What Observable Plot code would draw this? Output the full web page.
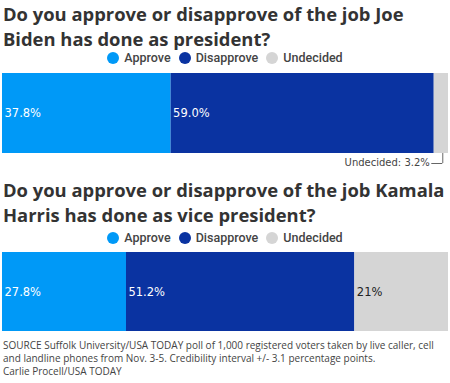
<!DOCTYPE html>
<html>
<head>
<meta charset="utf-8">
<script src="https://cdn.jsdelivr.net/npm/d3@7"></script>
<script src="https://cdn.jsdelivr.net/npm/@observablehq/plot@0.6"></script>
<style>
  html, body { margin: 0; padding: 0; background: #fff; }
  body { width: 450px; height: 383px; position: relative; overflow: hidden; font-family: "Open Sans", sans-serif; }
  .title { position: absolute; left: 3px; width: 447px; font-family: "Open Sans", sans-serif; font-weight: 700; font-size: 18.4px; line-height: 25px; color: #333; }
  .legend { position: absolute; left: 0; width: 450px; text-align: center; font-family: Roboto, sans-serif; font-size: 12.5px; font-weight: 500; color: #444; line-height: 12px; }
  .legend span.item { display: inline-block; margin: 0 4px; }
  .legend span.sw { display: inline-block; width: 12px; height: 12px; border-radius: 50%; vertical-align: -2px; margin-right: 5px; }
  .chart { position: absolute; left: 0; }
  .caption { position: absolute; left: 3px; top: 339px; width: 447px; font-family: "Open Sans", sans-serif; font-size: 10px; line-height: 13px; color: #444; }
</style>
</head>
<body>
<div id="root"></div>
<script>
const series = ["Approve", "Disapprove", "Undecided"];
const colors = ["#0099f7", "#0a33a1", "#d5d5d5"];
const questions = [
  "Do you approve or disapprove of the job Joe Biden has done as president?",
  "Do you approve or disapprove of the job Kamala Harris has done as vice president?"
];
const bidenValues = [37.8, 59.0, 3.2];
const harrisValues = [27.8, 51.2, 21];
const bidenLabels = ["37.8%", "59.0%", "Undecided: 3.2%"];
const harrisLabels = ["27.8%", "51.2%", "21%"];
const captionLines = [
  "SOURCE Suffolk University/USA TODAY poll of 1,000 registered voters taken by live caller, cell",
  "and landline phones from Nov. 3-5. Credibility interval +/- 3.1 percentage points.",
  "Carlie Procell/USA TODAY"
];

const root = document.getElementById("root");

function addTitle(text, top) {
  const d = document.createElement("div");
  d.className = "title";
  d.style.top = top + "px";
  d.textContent = text;
  root.appendChild(d);
}
function addLegend(top) {
  const d = document.createElement("div");
  d.className = "legend";
  d.style.top = top + "px";
  series.forEach((s, i) => {
    const it = document.createElement("span");
    it.className = "item";
    const sw = document.createElement("span");
    sw.className = "sw";
    sw.style.background = colors[i];
    it.appendChild(sw);
    it.appendChild(document.createTextNode(s));
    d.appendChild(it);
  });
  root.appendChild(d);
}
function rows(values, labels, q) {
  let c = 0;
  return values.map((v, i) => {
    const r = {q, series: series[i], value: v, x1: c, x2: c + v, label: labels[i], i};
    c += v;
    return r;
  });
}
function addChart(values, labels, q, top, height, barHeight, annotateLast) {
  const data = rows(values, labels, q);
  const inside = annotateLast ? data.slice(0, 2) : data;
  const last = data[data.length - 1];
  const mid = last.x1 + last.value * 0.6;
  const marks = [
    Plot.barX(data, {x1: "x1", x2: "x2", y: "q", fill: "series"}),
    Plot.text(inside, {
      x: "x1", y: "q", text: "label", textAnchor: "start", dx: 2,
      fill: d => d.i === 2 ? "#222" : "#fff",
      fontFamily: "DejaVu Sans, sans-serif", fontSize: 11.5
    })
  ];
  if (annotateLast) {
    marks.push(
      Plot.tickX([last], {x: () => mid, y: "q", insetTop: barHeight, insetBottom: -10, stroke: "#666", strokeWidth: 1}),
      Plot.ruleY([last], {y: "q", x1: () => mid, x2: () => mid, insetLeft: -11, dy: barHeight / 2 + 10, stroke: "#666", strokeWidth: 1}),
      Plot.text([last], {
        x: () => mid, y: "q", text: "label", textAnchor: "end", dx: -13, dy: barHeight / 2 + 9,
        fill: "#444", fontFamily: "DejaVu Sans, sans-serif", fontSize: 10
      })
    );
  }
  const chart = Plot.plot({
    width: 450,
    height,
    marginLeft: 2,
    marginRight: 2,
    marginTop: 3,
    marginBottom: height - 3 - barHeight,
    x: {domain: [0, 100], axis: null},
    y: {domain: [q], axis: null, padding: 0},
    color: {domain: series, range: colors},
    style: {overflow: "visible"},
    marks
  });
  chart.classList.add("chart");
  chart.style.top = top + "px";
  root.appendChild(chart);
}

addTitle(questions[0], 1);
addLegend(52);
addChart(bidenValues, bidenLabels, "Biden", 70, 100, 80, true);
addTitle(questions[1], 177);
addLegend(232);
addChart(harrisValues, harrisLabels, "Harris", 249, 85, 79, false);

const cap = document.createElement("div");
cap.className = "caption";
captionLines.forEach(l => {
  const d = document.createElement("div");
  d.textContent = l;
  cap.appendChild(d);
});
root.appendChild(cap);
</script>
</body>
</html>
